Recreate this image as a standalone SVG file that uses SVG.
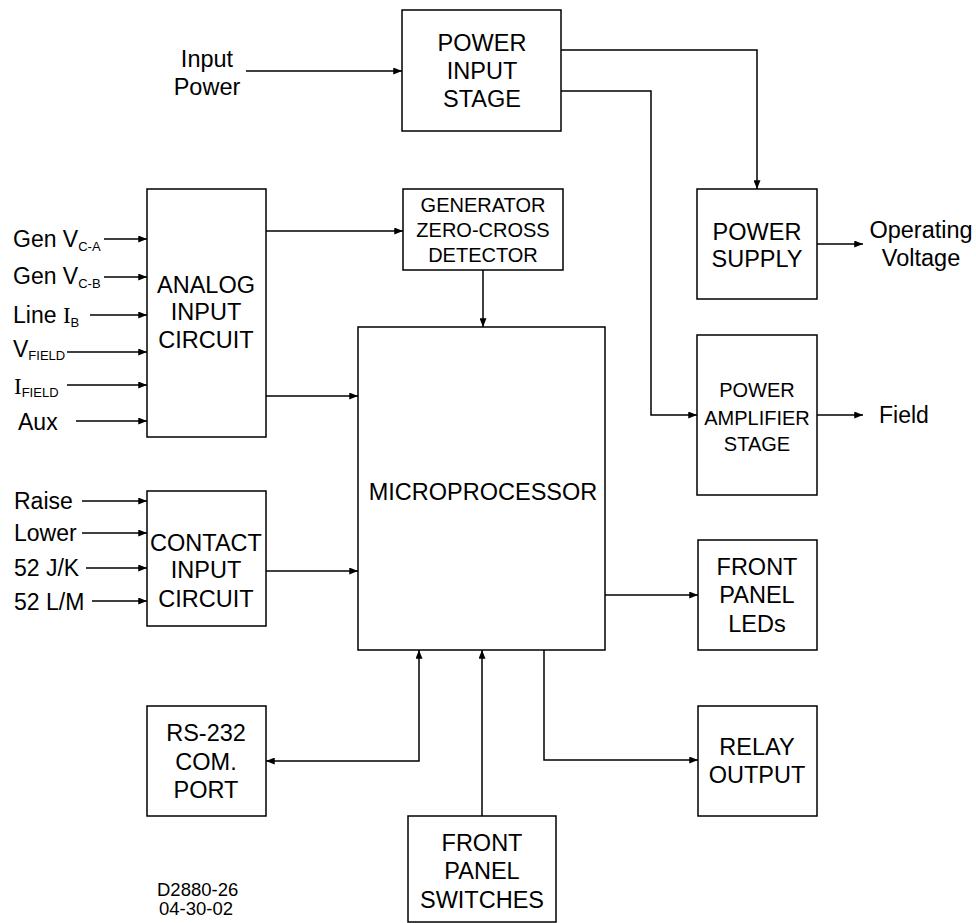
<svg xmlns="http://www.w3.org/2000/svg" width="976" height="923" viewBox="0 0 976 923">
<defs>
<marker id="ah" viewBox="0 0 10 8" refX="10" refY="4" markerWidth="9" markerHeight="7" orient="auto-start-reverse" markerUnits="userSpaceOnUse"><path d="M0,0L10,4L0,8z" fill="#000"/></marker>
</defs>
<style>
rect{fill:#fff;stroke:#000;stroke-width:1.5}
.c line,.c polyline{fill:none;stroke:#000;stroke-width:1.5;marker-end:url(#ah)}
text{font-family:"Liberation Sans",Arial,sans-serif;fill:#000}
.b{font-size:23.5px;text-anchor:middle}
.s{font-size:20px;text-anchor:middle}
.l{font-size:23px}
.sub{font-size:13px}
.ser{font-family:"Liberation Serif","Times New Roman",serif}
.m{font-size:18.5px}
</style>
<rect width="976" height="923" style="fill:#fff;stroke:none"/>
<g class="c" id="connectors">
<line x1="246" y1="71" x2="402" y2="71"/>
<polyline points="561,50 757,50 757,189"/>
<polyline points="561,91 651,91 651,415 697,415"/>
<line x1="817" y1="244" x2="863" y2="244"/>
<line x1="817" y1="415" x2="863" y2="415"/>
<line x1="104" y1="239" x2="147" y2="239"/>
<line x1="104" y1="277" x2="147" y2="277"/>
<line x1="90" y1="315" x2="147" y2="315"/>
<line x1="67" y1="352" x2="147" y2="352"/>
<line x1="67" y1="385" x2="147" y2="385"/>
<line x1="76" y1="421" x2="147" y2="421"/>
<line x1="266" y1="231" x2="403" y2="231"/>
<line x1="266" y1="396" x2="358" y2="396"/>
<line x1="483" y1="270" x2="483" y2="327"/>
<line x1="82" y1="501" x2="147" y2="501"/>
<line x1="82" y1="533" x2="147" y2="533"/>
<line x1="86" y1="568" x2="147" y2="568"/>
<line x1="92" y1="601" x2="147" y2="601"/>
<line x1="266" y1="571" x2="358" y2="571"/>
<line x1="605" y1="595" x2="698" y2="595"/>
<polyline points="544,650 544,760 698,760"/>
<polyline points="266,761 419,761 419,650" style="marker-start:url(#ah)"/>
<line x1="482" y1="816" x2="482" y2="650"/>
</g>
<g id="power-input-stage"><rect x="402" y="10" width="159" height="121"/>
<text class="b" x="482" y="51">POWER</text><text class="b" x="482" y="79">INPUT</text><text class="b" x="482" y="107">STAGE</text></g>
<g id="power-supply"><rect x="697" y="189" width="120" height="110"/>
<text class="b" x="757" y="240">POWER</text><text class="b" x="757" y="267">SUPPLY</text></g>
<g id="power-amplifier"><rect x="697" y="335" width="120" height="160"/>
<text class="s" x="757" y="397">POWER</text><text class="s" x="757" y="425">AMPLIFIER</text><text class="s" x="757" y="451">STAGE</text></g>
<g id="analog-input"><rect x="147" y="189" width="119" height="248"/>
<text class="b" x="206" y="293">ANALOG</text><text class="b" x="206" y="320">INPUT</text><text class="b" x="206" y="348">CIRCUIT</text></g>
<g id="zero-cross"><rect x="403" y="189" width="160" height="81"/>
<text class="s" x="483" y="212">GENERATOR</text><text class="s" x="483" y="237">ZERO-CROSS</text><text class="s" x="483" y="262">DETECTOR</text></g>
<g id="microprocessor"><rect x="358" y="327" width="247" height="323"/>
<text class="b" x="483" y="500">MICROPROCESSOR</text></g>
<g id="contact-input"><rect x="147" y="491" width="119" height="135"/>
<text class="b" x="206" y="551">CONTACT</text><text class="b" x="206" y="578">INPUT</text><text class="b" x="206" y="607">CIRCUIT</text></g>
<g id="front-panel-leds"><rect x="698" y="540" width="119" height="110"/>
<text class="b" x="757" y="575">FRONT</text><text class="b" x="757" y="603">PANEL</text><text class="b" x="757" y="632">LEDs</text></g>
<g id="relay-output"><rect x="698" y="706" width="119" height="110"/>
<text class="b" x="757" y="755">RELAY</text><text class="b" x="757" y="783">OUTPUT</text></g>
<g id="rs232"><rect x="147" y="706" width="119" height="110"/>
<text class="b" x="206" y="741">RS-232</text><text class="b" x="206" y="770">COM.</text><text class="b" x="206" y="798">PORT</text></g>
<g id="front-panel-switches"><rect x="408" y="816" width="148" height="106"/>
<text class="b" x="482" y="851">FRONT</text><text class="b" x="482" y="879">PANEL</text><text class="b" x="482" y="908">SWITCHES</text></g>
<g id="labels">
<text class="b" x="207" y="67">Input</text><text class="b" x="207" y="95">Power</text>
<text class="b" x="921" y="238">Operating</text><text class="b" x="921" y="266">Voltage</text>
<text class="l" x="879" y="423">Field</text>
<text class="l" x="13" y="247">Gen V<tspan class="sub" dy="4">C-A</tspan></text>
<text class="l" x="13" y="284">Gen V<tspan class="sub" dy="4">C-B</tspan></text>
<text class="l" x="13" y="323">Line <tspan class="ser">I</tspan><tspan class="sub" dy="4">B</tspan></text>
<text class="l" x="13" y="357">V<tspan class="sub" dy="3">FIELD</tspan></text>
<text class="l" x="14" y="394"><tspan class="ser">I</tspan><tspan class="sub" dy="3">FIELD</tspan></text>
<text class="l" x="18" y="430">Aux</text>
<text class="l" x="14" y="509">Raise</text>
<text class="l" x="14" y="541">Lower</text>
<text class="l" x="14" y="576">52 J/K</text>
<text class="l" x="14" y="610">52 L/M</text>
<text class="m" x="157" y="896">D2880-26</text>
<text class="m" x="159" y="915">04-30-02</text>
</g>
</svg>
